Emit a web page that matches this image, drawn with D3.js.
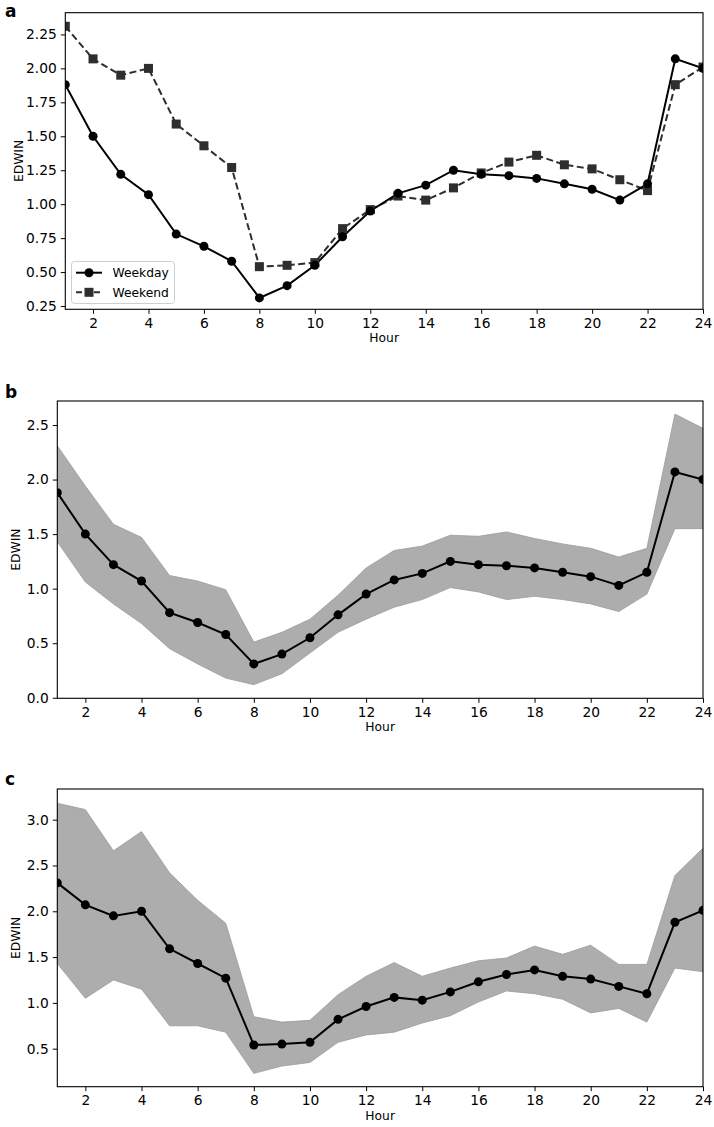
<!DOCTYPE html>
<html>
<head>
<meta charset="utf-8">
<script src="https://cdn.jsdelivr.net/npm/d3@7"></script>
<style>
  html, body { margin: 0; padding: 0; background: #fff; }
  svg { display: block; }
  text { font-family: "DejaVu Sans", sans-serif; fill: #000; }
</style>
</head>
<body>
<svg id="chart" width="714" height="1127"></svg>
<script>
// ---------- DATA ----------
const hours = d3.range(1, 25);
const weekday = [1.88, 1.50, 1.22, 1.07, 0.78, 0.69, 0.58, 0.31, 0.40, 0.55, 0.76, 0.95,
                 1.08, 1.14, 1.25, 1.22, 1.21, 1.19, 1.15, 1.11, 1.03, 1.15, 2.07, 2.00];
const weekend = [2.31, 2.07, 1.95, 2.00, 1.59, 1.43, 1.27, 0.54, 0.55, 0.57, 0.82, 0.96,
                 1.06, 1.03, 1.12, 1.23, 1.31, 1.36, 1.29, 1.26, 1.18, 1.10, 1.88, 2.01];
const weekdayUpper = [2.31, 1.94, 1.59, 1.47, 1.12, 1.07, 0.99, 0.51, 0.60, 0.72, 0.94, 1.19,
                      1.35, 1.39, 1.49, 1.48, 1.52, 1.46, 1.41, 1.37, 1.29, 1.37, 2.60, 2.47];
const weekdayLower = [1.43, 1.06, 0.86, 0.68, 0.45, 0.31, 0.18, 0.12, 0.22, 0.41, 0.60, 0.72,
                      0.83, 0.90, 1.01, 0.97, 0.90, 0.93, 0.90, 0.86, 0.79, 0.95, 1.55, 1.55];
const weekendUpper = [3.18, 3.11, 2.66, 2.87, 2.42, 2.12, 1.87, 0.85, 0.79, 0.81, 1.09, 1.29,
                      1.44, 1.29, 1.38, 1.46, 1.49, 1.62, 1.53, 1.63, 1.42, 1.42, 2.39, 2.69];
const weekendLower = [1.43, 1.05, 1.25, 1.15, 0.75, 0.75, 0.68, 0.23, 0.31, 0.35, 0.57, 0.65,
                      0.68, 0.78, 0.86, 1.01, 1.13, 1.10, 1.04, 0.89, 0.94, 0.79, 1.38, 1.34];
const xTicks = [2, 4, 6, 8, 10, 12, 14, 16, 18, 20, 22, 24];
const yTicksA = [0.25, 0.50, 0.75, 1.00, 1.25, 1.50, 1.75, 2.00, 2.25];
const yTicksB = [0.0, 0.5, 1.0, 1.5, 2.0, 2.5];
const yTicksC = [0.5, 1.0, 1.5, 2.0, 2.5, 3.0];
const seriesNames = ["Weekday", "Weekend"];

// ---------- DRAW ----------
const svg = d3.select("#chart");
const LW = 2, R = 4.5, SQ = 9;

function panel(opts) {
  const { left, right, top, bottom, yDomain, yTicks, yFmt, letter } = opts;
  const g = svg.append("g");
  const x = d3.scaleLinear().domain([1, 24]).range([left, right]);
  const y = d3.scaleLinear().domain(yDomain).range([bottom, top]);

  const id = "clip" + letter;
  svg.append("clipPath").attr("id", id).append("rect")
    .attr("x", left).attr("y", top).attr("width", right - left).attr("height", bottom - top);
  const plot = g.append("g").attr("clip-path", `url(#${id})`);

  const xAxis = g.append("g").attr("transform", `translate(0,${bottom})`)
    .call(d3.axisBottom(x).tickValues(xTicks).tickFormat(d3.format("d")).tickSize(4.5).tickPadding(4));
  const yAxis = g.append("g").attr("transform", `translate(${left},0)`)
    .call(d3.axisLeft(y).tickValues(yTicks).tickFormat(d3.format(yFmt)).tickSize(4.5).tickPadding(4));
  [xAxis, yAxis].forEach(a => {
    a.select(".domain").remove();
    a.selectAll("line").attr("stroke", "#000").attr("stroke-width", 1);
    a.selectAll("text").attr("font-family", "DejaVu Sans").attr("font-size", "13.8px").attr("fill", "#000");
  });

  g.append("rect").attr("x", left).attr("y", top).attr("width", right - left).attr("height", bottom - top)
    .attr("fill", "none").attr("stroke", "#000").attr("stroke-width", 1.1);

  g.append("text").attr("x", (left + right) / 2).attr("y", bottom + 33)
    .attr("text-anchor", "middle").attr("font-size", "12.3px").text("Hour");
  g.append("text").attr("transform", `translate(${opts.ylabX},${(top + bottom) / 2}) rotate(-90)`)
    .attr("text-anchor", "middle").attr("font-size", "12.3px").text("EDWIN");
  g.append("text").attr("x", 5).attr("y", opts.letterY)
    .attr("font-family", "Liberation Sans, Arial, sans-serif").attr("font-weight", "bold")
    .attr("font-size", "17px").text(letter);

  return { g, plot, x, y };
}

// Panel a
{
  const p = panel({ left: 65.3, right: 703, top: 12.7, bottom: 309.3, yDomain: [0.226, 2.41],
    yTicks: yTicksA, yFmt: ".2f", letter: "a", letterY: 17, ylabX: 23 });
  const line = d3.line().x((d, i) => p.x(hours[i])).y(d => p.y(d));
  p.plot.append("path").datum(weekend).attr("d", line).attr("fill", "none")
    .attr("stroke", "#2e2e2e").attr("stroke-width", LW).attr("stroke-dasharray", "7,3.5");
  p.plot.append("path").datum(weekday).attr("d", line).attr("fill", "none")
    .attr("stroke", "#000").attr("stroke-width", LW);
  p.plot.selectAll("rect.we").data(weekend).enter().append("rect")
    .attr("x", (d, i) => p.x(hours[i]) - SQ / 2).attr("y", d => p.y(d) - SQ / 2)
    .attr("width", SQ).attr("height", SQ).attr("fill", "#2e2e2e");
  p.plot.selectAll("circle.wd").data(weekday).enter().append("circle")
    .attr("cx", (d, i) => p.x(hours[i])).attr("cy", d => p.y(d)).attr("r", R).attr("fill", "#000");

  const lg = p.g.append("g");
  lg.append("rect").attr("x", 71.5).attr("y", 261.5).attr("width", 103).attr("height", 42)
    .attr("rx", 3).attr("fill", "#fff").attr("fill-opacity", 0.85).attr("stroke", "#cfcfcf").attr("stroke-width", 1);
  const rows = [{ y: 272.7, name: seriesNames[0] }, { y: 292.3, name: seriesNames[1] }];
  lg.append("line").attr("x1", 76).attr("x2", 102).attr("y1", rows[0].y).attr("y2", rows[0].y)
    .attr("stroke", "#000").attr("stroke-width", LW);
  lg.append("circle").attr("cx", 89).attr("cy", rows[0].y).attr("r", R).attr("fill", "#000");
  lg.append("line").attr("x1", 76).attr("x2", 102).attr("y1", rows[1].y).attr("y2", rows[1].y)
    .attr("stroke", "#2e2e2e").attr("stroke-width", LW).attr("stroke-dasharray", "6,3");
  lg.append("rect").attr("x", 89 - SQ / 2).attr("y", rows[1].y - SQ / 2).attr("width", SQ).attr("height", SQ)
    .attr("fill", "#2e2e2e");
  rows.forEach(r => {
    lg.append("text").attr("x", 112.5).attr("y", r.y).attr("dy", "0.36em")
      .attr("font-size", "12.3px").text(r.name);
  });
}

function bandPanel(opts, mean, lower, upper) {
  const p = panel(opts);
  const area = d3.area().x((d, i) => p.x(hours[i])).y0((d, i) => p.y(lower[i])).y1((d, i) => p.y(upper[i]));
  p.plot.append("path").datum(mean).attr("d", area).attr("fill", "#adadad")
    .attr("stroke", "#9c9c9c").attr("stroke-width", 0.8);
  const line = d3.line().x((d, i) => p.x(hours[i])).y(d => p.y(d));
  p.plot.append("path").datum(mean).attr("d", line).attr("fill", "none")
    .attr("stroke", "#000").attr("stroke-width", LW);
  p.plot.selectAll("circle.m").data(mean).enter().append("circle")
    .attr("cx", (d, i) => p.x(hours[i])).attr("cy", d => p.y(d)).attr("r", R).attr("fill", "#000");
}

bandPanel({ left: 57.3, right: 703, top: 401, bottom: 698.3, yDomain: [-0.005, 2.72],
  yTicks: yTicksB, yFmt: ".1f", letter: "b", letterY: 398, ylabX: 20 }, weekday, weekdayLower, weekdayUpper);

bandPanel({ left: 57.3, right: 703, top: 789, bottom: 1086.7, yDomain: [0.085, 3.335],
  yTicks: yTicksC, yFmt: ".1f", letter: "c", letterY: 785, ylabX: 20 }, weekend, weekendLower, weekendUpper);
</script>
</body>
</html>
